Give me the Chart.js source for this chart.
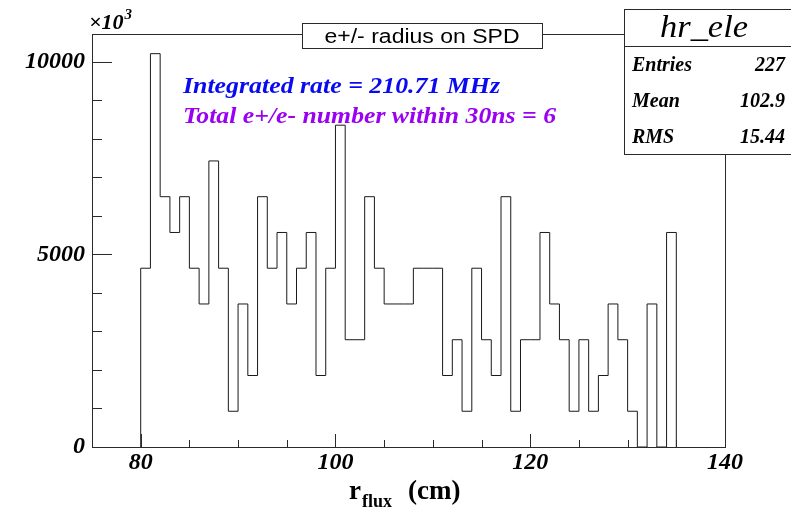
<!DOCTYPE html>
<html>
<head>
<meta charset="utf-8">
<script src="https://cdn.jsdelivr.net/npm/chart.js@4.4.0/dist/chart.umd.min.js"></script>
<style>
  html, body { margin: 0; padding: 0; background: #fff; }
  #wrap { width: 791px; height: 510px; }
</style>
</head>
<body>
<div id="wrap"><canvas id="chart" width="791" height="510"></canvas></div>
<script>
// ---------- DATA ----------
// low edge of every 1 cm bin (cm)
const binLow = [
  80, 81, 82, 83, 84, 85, 86, 87, 88, 89,
  90, 91, 92, 93, 94, 95, 96, 97, 98, 99,
  100, 101, 102, 103, 104, 105, 106, 107, 108, 109,
  110, 111, 112, 113, 114, 115, 116, 117, 118, 119,
  120, 121, 122, 123, 124, 125, 126, 127, 128, 129,
  130, 131, 132, 133, 134
];
const binWidth = 1;
// rate per bin (Hz), axis shown as x10^3
const rates = [
  4641, 10211, 6498, 5569, 6498, 4641, 3713, 7426, 4641, 928,
  3713, 1856, 6498, 4641, 5569, 3713, 4641, 5569, 1856, 4641,
  8354, 2785, 2785, 6498, 4641, 3713, 3713, 3713, 4641, 4641,
  4641, 1856, 2785, 928, 4641, 2785, 1856, 6498, 928, 2785,
  2785, 5569, 3713, 2785, 928, 2785, 928, 1856, 3713, 2785,
  928, 0, 3713, 0, 5569
];
const xTicks = [80, 100, 120, 140];
const yTicks = [0, 5000, 10000];

const histName = "hr_ele";
const titleText = "e+/- radius on SPD";
const statsLabels = ["Entries", "Mean", "RMS"];
const statsValues = ["227", "102.9", "15.44"];
const notes = ["Integrated rate = 210.71 MHz", "Total e+/e- number within 30ns = 6"];

// ---------- HELPERS ----------
const SERIF = "'Liberation Serif', 'Times New Roman', serif";
const SANS = "'Liberation Sans', Arial, sans-serif";
const LINE = "#2a2a2a";

function fitText(ctx, text, x, y, font, color, width, align) {
  ctx.save();
  ctx.font = font;
  ctx.fillStyle = color;
  ctx.textBaseline = "alphabetic";
  ctx.textAlign = align || "left";
  const w = ctx.measureText(text).width;
  const sx = width ? width / w : 1;
  ctx.translate(x, y);
  ctx.scale(sx, 1);
  ctx.fillText(text, 0, 0);
  ctx.restore();
  return w * sx;
}

// histogram outline points (step shape, closed down to zero)
const points = [{ x: binLow[0], y: 0 }]
  .concat(binLow.map((x, i) => ({ x: x, y: rates[i] })))
  .concat([{ x: binLow[binLow.length - 1] + binWidth, y: 0 }]);

const yMax = Math.max(...rates) * 1.05;

// ---------- ROOT STYLE DECORATION ----------
const rootStyle = {
  id: "rootStyle",
  afterDatasetsDraw(chart) {
    const ctx = chart.ctx;
    const a = chart.chartArea;
    const xs = chart.scales.x;
    const ys = chart.scales.y;
    ctx.save();
    ctx.strokeStyle = LINE;
    ctx.lineWidth = 1;
    ctx.strokeRect(Math.round(a.left) + 0.5, Math.round(a.top) + 0.5,
      Math.round(a.right - a.left), Math.round(a.bottom - a.top));

    // y ticks, inside the frame
    ctx.beginPath();
    for (let v = 0; v <= ys.max; v += 1000) {
      const py = Math.round(ys.getPixelForValue(v)) + 0.5;
      const len = v % 5000 === 0 ? 20 : 10;
      ctx.moveTo(a.left, py);
      ctx.lineTo(a.left + len, py);
    }
    // x ticks, inside the frame
    for (let v = 80; v < xs.max; v += 5) {
      const px = Math.round(xs.getPixelForValue(v)) + 0.5;
      const len = v % 20 === 0 ? 13 : 7;
      ctx.moveTo(px, a.bottom);
      ctx.lineTo(px, a.bottom - len);
    }
    ctx.stroke();
    ctx.restore();
  },
  afterDraw(chart) {
    const ctx = chart.ctx;
    ctx.save();
    ctx.strokeStyle = LINE;
    ctx.lineWidth = 1;

    // title box
    ctx.fillStyle = "#fff";
    ctx.fillRect(302.5, 23.5, 240, 25);
    ctx.strokeRect(302.5, 23.5, 240, 25);
    fitText(ctx, titleText, 422, 43, "20px " + SANS, "#000", 195, "center");

    // stats box
    ctx.fillStyle = "#fff";
    ctx.fillRect(624.5, 9.5, 180, 145);
    ctx.strokeRect(624.5, 9.5, 180, 145);
    ctx.beginPath();
    ctx.moveTo(624.5, 46.5);
    ctx.lineTo(791, 46.5);
    ctx.stroke();
    fitText(ctx, histName, 704, 37, "italic 31px " + SERIF, "#000", 88, "center");
    statsLabels.forEach((lab, i) => {
      const by = 71 + i * 36;
      fitText(ctx, lab, 632, by, "italic bold 20px " + SERIF, "#000", 0, "left");
      fitText(ctx, statsValues[i], 785, by, "italic bold 20px " + SERIF, "#000", 0, "right");
    });

    // notes
    fitText(ctx, notes[0], 183, 93, "italic bold 23px " + SERIF, "#0a0af0", 317, "left");
    fitText(ctx, notes[1], 183, 123, "italic bold 23px " + SERIF, "#9a00f2", 373, "left");

    // x10^3 multiplier
    const w = fitText(ctx, "\u00d710", 89, 29, "italic bold 22px " + SERIF, "#000", 0, "left");
    fitText(ctx, "3", 89 + w + 1, 19, "italic bold 15px " + SERIF, "#000", 0, "left");

    // x axis title with subscript
    const wr = fitText(ctx, "r", 349, 499, "bold 27px " + SERIF, "#000", 0, "left");
    fitText(ctx, "flux", 349 + wr + 1, 507, "bold 18px " + SERIF, "#000", 0, "left");
    fitText(ctx, "(cm)", 408, 499, "bold 27px " + SERIF, "#000", 0, "left");
    ctx.restore();
  }
};

new Chart(document.getElementById("chart"), {
  type: "line",
  data: {
    datasets: [{
      label: histName,
      data: points,
      stepped: "before",
      borderColor: "#1a1a1a",
      borderWidth: 1,
      pointRadius: 0,
      fill: false,
      tension: 0
    }]
  },
  options: {
    responsive: false,
    animation: false,
    layout: { padding: { left: 0, top: 34, right: 66, bottom: 0 } },
    plugins: {
      legend: { display: false },
      tooltip: { enabled: false },
      title: { display: false }
    },
    scales: {
      x: {
        type: "linear",
        min: 75,
        max: 140,
        afterBuildTicks: (s) => { s.ticks = xTicks.map((v) => ({ value: v })); },
        afterFit: (s) => { s.height = 63; },
        grid: { display: false, drawTicks: false },
        border: { display: false },
        ticks: {
          autoSkip: false,
          maxRotation: 0,
          padding: 1,
          color: "#000",
          font: { family: SERIF, size: 24, style: "italic", weight: "bold" },
          callback: (v) => String(v)
        }
      },
      y: {
        type: "linear",
        min: 0,
        max: yMax,
        afterBuildTicks: (s) => { s.ticks = yTicks.map((v) => ({ value: v })); },
        afterFit: (s) => { s.width = 92; },
        grid: { display: false, drawTicks: false },
        border: { display: false },
        ticks: {
          padding: 7,
          color: "#000",
          font: { family: SERIF, size: 24, style: "italic", weight: "bold" },
          callback: (v) => String(v)
        }
      }
    }
  },
  plugins: [rootStyle]
});
</script>
</body>
</html>
